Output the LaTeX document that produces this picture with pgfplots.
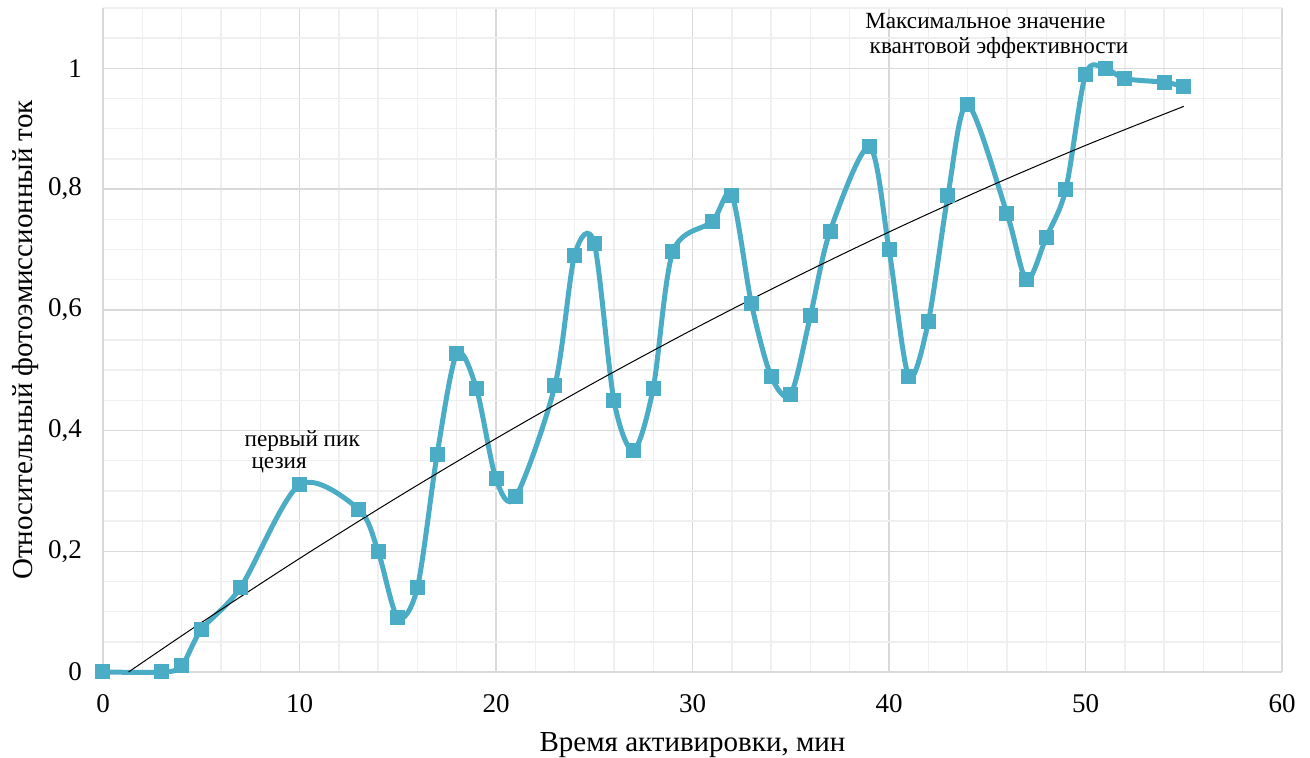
\documentclass[border=0pt]{standalone}
\usepackage{fontspec}
\setmainfont{Liberation Serif}
\usepackage{pgfplots}
\pgfplotsset{compat=1.18}
\definecolor{curve}{HTML}{4BACC6}
\definecolor{majgrid}{HTML}{D9D9D9}
\definecolor{mingrid}{HTML}{EFEFEF}
\begin{document}
\begin{tikzpicture}
\begin{axis}[
  scale only axis,
  width=589.5pt, height=332pt,
  xmin=0, xmax=60, ymin=0, ymax=1.1,
  xtick={0,10,...,60},
  ytick={0,0.2,0.4,0.6,0.8,1},
  minor xtick={2,4,6,8,12,14,16,18,22,24,26,28,32,34,36,38,42,44,46,48,52,54,56,58},
  minor ytick={0.05,0.1,0.15,0.25,0.3,0.35,0.45,0.5,0.55,0.65,0.7,0.75,0.85,0.9,0.95,1.05,1.1},
  grid=both,
  major grid style={majgrid, line width=0.7pt},
  minor grid style={mingrid, line width=0.7pt},
  axis lines*=left,
  axis line style={draw=majgrid, line width=0.9pt},
  tick style={draw=none},
  /pgf/number format/use comma,
  /pgf/number format/assume math mode=true,
  ticklabel style={font=\fontsize{13.5}{16}\selectfont},
  xticklabel style={yshift=-7.5pt},
  yticklabel style={xshift=-7pt},
  xlabel={Время активировки, мин},
  ylabel={Относительный фотоэмиссионный ток},
  label style={font=\fontsize{14.5}{17}\selectfont},
  xlabel style={yshift=-3pt},
  ylabel style={yshift=-2pt},
  clip=false,
]
\addplot[curve, line width=2.5pt, smooth, tension=0.5, mark=square*, mark size=2.5pt, mark options={solid, fill=curve, draw=curve}] coordinates {
(0,0) (3,0) (4,0.01) (5,0.07) (7,0.14) (10,0.31) (13,0.27) (14,0.20)
(15,0.09) (16,0.14) (17,0.36) (18,0.527) (19,0.47) (20,0.32) (21,0.29)
(23,0.475) (24,0.69) (25,0.71) (26,0.45) (27,0.367) (28,0.47) (29,0.696)
(31,0.746) (32,0.79) (33,0.61) (34,0.49) (35,0.46) (36,0.59) (37,0.73)
(39,0.87) (40,0.70) (41,0.49) (42,0.58) (43,0.79) (44,0.94) (46,0.76)
(47,0.65) (48,0.72) (49,0.80) (50,0.99) (51,1.0) (52,0.983) (54,0.977) (55,0.97)
};
\addplot[black, line width=0.5pt, smooth] coordinates {
(1.3,0) (5,0.0817) (10,0.188) (15,0.2897) (20,0.3868) (25,0.4793)
(30,0.5671) (35,0.6503) (40,0.7289) (45,0.8029) (50,0.8723) (55,0.937)
};
\node[font=\fontsize{11.6}{14}\selectfont, anchor=west] at (axis cs:6.85,0.383) {первый пик};
\node[font=\fontsize{11.6}{14}\selectfont, anchor=west] at (axis cs:7.2,0.342) {цезия};
\node[font=\fontsize{11.6}{14}\selectfont] at (axis cs:44.9,1.078) {Максимальное значение};
\node[font=\fontsize{11.6}{14}\selectfont] at (axis cs:45.6,1.034) {квантовой эффективности};
\end{axis}
\pgfresetboundingbox
\path[use as bounding box] (current axis.south west) ++(-51.5pt,-43pt) rectangle ([xshift=14pt,yshift=4pt]current axis.north east);
\end{tikzpicture}
\end{document}
